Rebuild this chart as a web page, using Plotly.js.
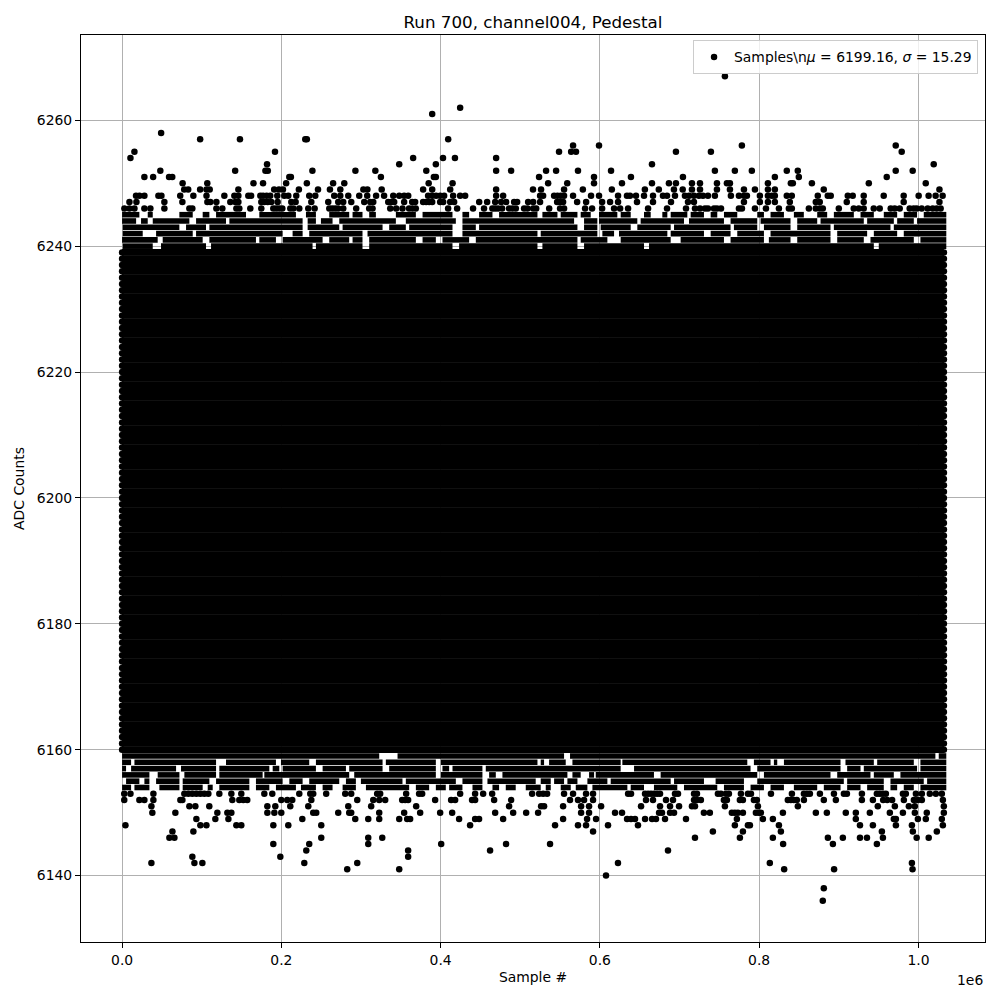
<!DOCTYPE html>
<html>
<head>
<meta charset="utf-8">
<script src="https://cdn.plot.ly/plotly-3.0.1.min.js"></script>
<style>html,body{margin:0;padding:0;background:#fff;}#chart{width:1000px;height:1000px;}</style>
</head>
<body>
<div id="chart"></div>
<script>
// ---- data (x values in thousands of samples, y in ADC counts) ----
const sampleFirstK = 0;
const sampleLastK = 1032;

// ADC levels that are filled across the whole run
const coreLevels = [6160,6161,6162,6163,6164,6165,6166,6167,6168,6169,6170,
  6171,6172,6173,6174,6175,6176,6177,6178,6179,6180,6181,6182,6183,6184,6185,6186,6187,6188,6189,6190,
  6191,6192,6193,6194,6195,6196,6197,6198,6199,6200,6201,6202,6203,6204,6205,6206,6207,6208,6209,6210,
  6211,6212,6213,6214,6215,6216,6217,6218,6219,6220,6221,6222,6223,6224,6225,6226,6227,6228,6229,6230,
  6231,6232,6233,6234,6235,6236,6237,6238,6239];

// partially filled rows: runs of adjacent samples [fromK, toK]
const runs6245 = [[0,21.7],[32.2,38.5],[71.9,88.7],[101.2,109.6],[118,155.6],[172.3,218.3],[230.9,243.4],[260.1,285.2],
  [289.4,301.9],[310.3,318.7],[343.8,368.9],[377.3,414.9],[427.4,435.8],[448.3,465.1],[473.4,521.6],[527.8,546.7],
  [550.8,571.8],[575.9,588.5],[598.9,621.9],[626.1,638.7],[655.4,663.8],[678.4,684.7],[688.9,709.8],[714,730.7],
  [739.1,747.4],[755.8,772.5],[797.6,806],[814.3,831.1],[843.6,856.1],[872.9,885.4],[893.8,918.9],[927.3,944],
  [956.5,973.3],[981.6,998.3],[1006.7,1035]];
const runs6244 = [[0,17.6],[23.8,32.2],[38.5,84.5],[92.9,130.5],[134.7,226.7],[233,243.4],[249.7,264.3],[272.7,343.8],
  [356.3,419.1],[427.4,567.6],[580.1,596.8],[598.9,647],[651.2,705.6],[711.9,755.8],[764.1,797.6],[801.8,839.4],
  [847.8,872.9],[877.1,931.4],[935.6,969.1],[973.3,994.2],[998.3,1035]];
const runs6243 = [[0.8,71.9],[80.3,105.4],[109.6,226.7],[233,272.7],[276.9,327.1],[335.4,356.3],[360.5,414.9],[427.4,444.2],
  [448.3,571.8],[580.1,596.8],[601,638.7],[647,688.9],[693.1,764.1],[768.3,797.6],[806,839.4],[847.8,889.6],[893.8,964.9],
  [969.1,1035]];
const runs6242 = [[0.8,25.9],[42.7,88.7],[92.9,201.6],[214.1,226.7],[235,301.9],[308.2,414.9],[427.4,521.6],[525.7,596.8],
  [603.1,617.8],[624,684.7],[688.9,730.7],[739.1,764.1],[772.5,806],[814.3,889.6],[898,935.6],[944,973.3],[981.6,1035]];
const runs6241 = [[0,44.7],[51,101.2],[109.6,168.1],[172.3,193.2],[201.6,251.8],[260.1,285.2],[289.4,301.9],[310.3,368.9],
  [377.3,394],[402.3,435.8],[444.2,571.8],[575.9,609.4],[626.1,688.9],[701.4,755.8],[764.1,806],[812.2,839.4],[847.8,889.6],
  [898,931.4],[939.8,994.2],[1002.5,1035]];
const runs6240 = [[0.8,38.5],[48.9,105.4],[111.7,239.2],[243.4,301.9],[310.3,414.9],[423.2,521.6],[527.8,571.8],[580.1,655.4],
  [661.7,944],[950.2,1035]];
const runs6159 = [[0,322.9],[345.9,555],[562.5,1021.3],[1025.5,1035]];
const runs6158 = [[0,11.3],[15.5,118],[130.5,193.2],[199.5,235],[243.4,327.1],[331.2,394],[400.3,521.6],[525.7,529.9],
  [536.2,557.1],[565.5,626.1],[628.2,785.1],[793.4,814.3],[818.5,822.7],[831.1,902.2],[908.4,944],[948.2,994.2],[1002.5,1035]];
const runs6157 = [[0,5],[11.3,67.8],[74,118],[122.1,184.9],[189.1,197.4],[201.6,243.4],[251.8,281.1],[285.2,327.1],[335.4,394],
  [402.3,410.7],[414.9,452.5],[456.7,626.1],[642.9,789.2],[797.6,902.2],[910.5,927.3],[931.4,998.3],[1002.5,1035]];
const runs6156 = [[0,34.3],[44.7,72],[78.2,118],[122.1,176.5],[178.6,285.2],[291.5,394],[400.3,452.5],[460.9,469.3],
  [477.6,559.2],[565.5,575.9],[586.4,592.7],[594.8,667.9],[676.3,797.6],[806,889.6],[898,939.8],[944,969.1],[977.4,1035]];
const runs6155 = [[5,21.7],[28,34.3],[42.7,72],[76.1,109.6],[118,159.8],[168.1,201.6],[210,226.7],[235,272.7],[281.1,293.6],
  [299.9,352.1],[356.3,419.1],[427.4,452.5],[458.8,519.4],[525.7,538.3],[542.5,555],[559.2,571.8],[584.3,609.4],[613.6,688.9],
  [693.1,730.7],[745.3,780.9],[797.6,906.3],[910.5,956.5],[964.9,1006.7],[1010.9,1035]];
const runs6154 = [[0,11.3],[15.5,34.3],[46.8,72],[76.1,101.2],[107.5,113.8],[122.1,159.8],[168.1,184.9],[193.2,218.3],
  [224.6,243.4],[251.8,264.3],[276.9,293.6],[306.2,360.5],[368.9,385.6],[394,406.5],[410.7,427.4],[440,452.5],[465.1,473.4],
  [481.8,494.3],[506.9,525.7],[532,538.3],[550.8,563.4],[569.7,584.3],[590.6,634.5],[638.7,655.4],[667.9,697.2],[705.6,747.4],
  [755.8,780.9],[789.2,806],[814.3,831.1],[843.6,872.9],[881.2,902.2],[910.5,927.3],[935.6,956.5],[964.9,973.3],[981.6,994.2],
  [1002.5,1035]];

// sparse rows: individual samples
const row6267 = [757];
const row6262 = [424.5];
const row6261 = [389.4];
const row6258 = [49];
const row6257 = [98, 148, 230, 232, 409.5];
const row6256 = [566.3, 598.9, 778.3, 971.5];
const row6255 = [15.5, 192, 548.7, 563.9, 570, 695.5, 739.4, 979];
const row6254 = [10.5, 365.5, 403, 418, 469.7];
const row6253 = [182, 348, 394, 665.4, 1019.2];
const row6252 = [48, 142, 180, 183, 239, 293, 318, 382, 469.7, 488.5, 532.4, 545, 572.5, 614, 744.4, 769.5, 790.8, 834.7, 848.5, 971.5, 992.8];
const row6251 = [28, 39, 59, 63, 210, 212, 325, 391.5, 394, 523.6, 592.6, 639, 704.3, 819.7, 849.8, 960.2];
const row6250 = [76, 107, 165, 177, 206, 232, 265, 279, 385, 415, 535, 559, 592.6, 627.7, 665.4, 686.7, 695.5, 715.6, 725.7, 747, 759.5, 763.3, 811, 839.8, 842.3, 866.2, 937.7, 1009.2];
const row6249 = [78, 83, 98, 106, 110, 146, 191, 197, 202, 222, 246, 261, 274, 303, 308, 326, 378, 389.4, 412, 469.7, 516, 526.1, 555, 578.6, 615, 656.5, 674, 693, 704, 715.6, 725.7, 747, 763.3, 780.9, 794.7, 811, 819.7, 881.1, 1026.4];
const row6248 = [17.5, 21.8, 28, 45.6, 49.4, 73, 89.5, 106, 128.4, 141, 146, 158.5, 162, 173.6, 177, 181.5, 186, 194.9, 203.7, 208.7, 218.7, 235, 242.6, 266.4, 274, 284, 297.8, 307.8, 319, 329, 340.5, 348,
  354.2, 359.3, 384.3, 389.4, 394.3, 399.4, 404.4, 415.7, 424.5, 430.8, 469.7, 478.5, 524.9, 528.7, 542.5, 546.7, 550.9, 555, 566.3, 588.9, 598.9, 622.8, 634, 637.8, 645.3, 655.4, 666.7, 679.2, 684.3, 694.3, 706.8, 711.9, 718.1, 724.4,
  729.4, 735.7, 744.4, 764.5, 774.6, 780.9, 784.6, 800.9, 811, 816, 819.7, 834.7, 841, 873.6, 886.2, 889.9, 911.3, 917.5, 931.3, 956.4, 981.5, 1000.3, 1012.8, 1021.6, 1030.4];
const row6247 = [9.2, 18, 53.1, 75.7, 107.1, 110.8, 118.4, 135.9, 142.2, 146, 174.8, 178.6, 182.8, 187.4, 195.3, 212.5, 217.9, 237.6, 258.9, 271.4, 277.7, 287.8, 304.1, 311.6, 315.4, 334.2, 338, 341.7,
  354.2, 364.3, 368, 378, 381.8, 385.6, 389.4, 399.4, 403.2, 412, 417, 448.4, 458.4, 468.5, 476, 482.3, 492.3, 496.1, 509.9, 516.2, 524.9, 546.3, 550, 553.8, 571.4, 582.7, 602.8, 612.8, 622.8, 646.6, 666.7, 689.3, 710.6, 718.1,
  780.9, 800.9, 811, 819.7, 838.5, 871.1, 876.1, 910, 931.3, 981.5, 1026.4];
const row6246 = [2.9, 9.2, 15.5, 28, 35.5, 53.1, 84.5, 88.2, 118.4, 125.9, 143.5, 147.2, 161, 174.8, 189.9, 193.6, 197.4, 201.2, 211.2, 215, 222.5, 233.8, 241.8, 260.2, 263.9, 267.7, 271.4, 277.7, 294, 310.3, 314.5, 336.7, 344.2,
  352.1, 360.4, 364.6, 368.8, 409.4, 420.7, 440.7, 454.5, 465, 468.5, 472.2, 477.2, 486, 490.2, 494.4, 504.8, 509, 516.2, 520, 536.3, 550, 555, 581.4, 590.2, 602.8, 617.8, 625.4, 635.4, 660.5, 684.3, 708.1, 719.4,
  725.7, 732, 735.7, 743.3, 747, 752.1, 774.6, 778.4, 794.7, 808.5, 824.8, 837.3, 841, 862.4, 871.1, 876.1, 879.9, 900, 918.8, 925.1, 931.3, 943.9, 951.4, 965.2, 970.2, 976.5, 989, 994, 997.8, 1004.1, 1011.6, 1017.9, 1022.9, 1027.9];
const row6153 = [2.7, 10.5, 39.3, 78.2, 83.2, 88.2, 93.3, 98.3, 103.3, 108.3, 122.1, 137.2, 149.7, 178.6, 188.6, 222.5, 236.3, 240, 256.3, 280.2, 287.7, 320.3, 324.1,
  356.7, 373, 376.8, 424.5, 443.3, 453.4, 464.7, 514.9, 523.7, 528.7, 533.7, 555, 566.3, 582.6, 591.4, 635.4, 639.1, 656.7, 660.5, 664.2, 668, 671.8, 675.5, 694.3, 698.1, 718.2, 721.9,
  748.2, 752, 758.3, 762, 777.1, 785.9, 789.7, 814.8, 841.1, 856.2, 860, 863.7, 876.3, 893.9, 906.4, 910.2, 929, 947.8, 951.6, 955.4, 959.1, 980.5, 984.2, 996.8, 1004.3, 1014.3, 1021.9, 1029.4];
const row6152 = [2.7, 21.7, 28, 39.3, 73.2, 75.7, 138.4, 147.2, 152.2, 157.2, 199.9, 207.4, 213.7, 237.6, 295.3, 315.4, 322.9, 330.4,
  351.7, 355.5, 359.2, 393.1, 413.2, 418.2, 439.5, 443.3, 467.2, 488.5, 562.5, 572.5, 580.1, 591.4, 657.9, 666.7, 683, 691.8, 718.2, 721.9,
  726.8, 755.7, 759.5, 775.8, 779.6, 793.4, 797.1, 836, 839.8, 843.5, 847.3, 856.2, 881.2, 896.3, 929, 942.8, 955.7, 960.8, 967, 981.7, 994.3, 999.3, 1004.3, 1030.7];
const row6151 = [36.8, 84.5, 92, 109.5, 182.4, 192.4, 211.2, 233.8, 284, 312.8, 369.3, 486, 526.2, 529.9, 553.8, 576.4, 586.4, 601.5, 651.7, 675.5, 688.1, 699.4, 715.6, 719.4, 757, 798.4, 848.6, 949, 970.4, 988, 995.5, 1031.9];
const row6150 = [38, 66.9, 119.6, 132.2, 137.2, 182.4, 191.2, 199.9, 240, 243.8, 271.4, 285.2, 287.7, 322.9, 354.2, 374.3, 399.4, 414.5, 468.5, 491.1, 507.4, 522.4, 576.4, 586.4, 619, 627.8, 674.3, 678, 688.1, 693.1,
  730.6, 738.1, 765.7, 769.5, 773.3, 779.6, 795.9, 799.7, 802.2, 829.8, 871.2, 885, 908.8, 921.4, 939, 964.1, 980.5, 995.5, 1010.5, 1031.9];
const row6149 = [93.3, 117.1, 133.5, 226.3, 292.8, 309.1, 322.9, 348, 358, 361.7, 423.2, 443.3, 448.3, 478.5, 553.8, 583.9, 595.2, 634.1, 639.1, 644.1, 656.7, 665.5, 670.5, 681.8, 708.1, 772, 804.7, 817.2, 921.4, 969.1, 971.7, 999.3, 1009.3, 1029.4];
const row6148 = [4.2, 98.3, 105.9, 143.5, 149.7, 189.9, 208.7, 250.1, 437, 543.7, 572.5, 582.6, 610.2, 647.8, 769.5, 785.9, 788.4, 824.8, 926.6, 942.8, 971.7, 991.8, 1030.7];
const row6147 = [63.2, 89.5, 591.4, 741.9, 779.6, 827.3, 954.1, 993, 1023.1];
const row6146 = [59.4, 65.7, 250.1, 309.1, 326.7, 719.4, 775.8, 817.2, 886.3, 905.1, 926.6, 935.4, 955.4, 997.8, 1012.9];
const row6145 = [189.9, 235, 309.1, 400.7, 482.2, 537.4, 830.1, 892.6, 947.8];
const row6144 = [231.3, 359.2, 462.1, 685.5];
const row6143 = [88.2, 198.7, 359.2];
const row6142 = [36.8, 90.8, 100.8, 228.8, 295.3, 622.7, 813.4, 991.8];
const row6141 = [282.7, 348, 831.4, 894.1, 992.6];
const row6140 = [607.7];
const row6138 = [881.2];
const row6136 = [879.9];

const runRows = [[6245,runs6245],[6244,runs6244],[6243,runs6243],[6242,runs6242],[6241,runs6241],[6240,runs6240],
  [6159,runs6159],[6158,runs6158],[6157,runs6157],[6156,runs6156],[6155,runs6155],[6154,runs6154]];
const sparseRows = [
  [6267,row6267],[6262,row6262],[6261,row6261],[6258,row6258],[6257,row6257],[6256,row6256],[6255,row6255],
  [6254,row6254],[6253,row6253],[6252,row6252],[6251,row6251],[6250,row6250],[6249,row6249],[6248,row6248],
  [6247,row6247],[6246,row6246],
  [6153,row6153],[6152,row6152],[6151,row6151],[6150,row6150],[6149,row6149],[6148,row6148],[6147,row6147],
  [6146,row6146],[6145,row6145],[6144,row6144],[6143,row6143],[6142,row6142],[6141,row6141],[6140,row6140],
  [6138,row6138],[6136,row6136]];

const xTickVals = [0, 0.2, 0.4, 0.6, 0.8, 1.0];
const xTickText = ['0.0', '0.2', '0.4', '0.6', '0.8', '1.0'];
const yTickVals = [6140, 6160, 6180, 6200, 6220, 6240, 6260];
const legendLabel = 'Samples\\n<i>μ</i> = 6199.16, <i>σ</i> = 15.29';

// ---- build traces ----
const K = 1000;
const coreX = [], coreY = [];
coreLevels.forEach(lv => { coreX.push(sampleFirstK*K, sampleLastK*K, null); coreY.push(lv, lv, null); });
const runX = [], runY = [];
runRows.forEach(([lv, runs]) => {
  runs.forEach(r => { runX.push(r[0]*K, r[1]*K, null); runY.push(lv, lv, null); });
});
const ptX = [], ptY = [];
sparseRows.forEach(([lv, xs]) => xs.forEach(x => { ptX.push(x*K); ptY.push(lv); }));

const allY = coreLevels.concat(ptY);
const yMin = Math.min(...allY), yMax = Math.max(...allY);
const xMin = sampleFirstK*K, xMax = sampleLastK*K;
const xPad = 0.05*(xMax-xMin), yPad = 0.05*(yMax-yMin);

const font = 'DejaVu Sans, sans-serif';
const traces = [
  {type:'scatter', mode:'lines+markers', x:coreX, y:coreY, showlegend:false, hoverinfo:'skip',
   line:{color:'#000', width:6.8}, marker:{color:'#000', size:6.5}},
  {type:'scatter', mode:'lines', x:runX, y:runY, showlegend:false, hoverinfo:'skip',
   line:{color:'#000', width:5.6}},
  {type:'scatter', mode:'markers', x:ptX, y:ptY, name:legendLabel,
   marker:{color:'#000', size:6.5}}
];

const axisCommon = {
  showline:true, mirror:true, linecolor:'#000', linewidth:1,
  ticks:'outside', ticklen:5, tickwidth:1, tickcolor:'#000',
  showgrid:true, gridcolor:'#b0b0b0', gridwidth:1, zeroline:false,
  tickfont:{family:font, size:13.9, color:'#000'}, automargin:false
};

const layout = {
  width:1000, height:1000,
  margin:{l:81, r:15, t:35, b:58},
  paper_bgcolor:'#fff', plot_bgcolor:'#fff',
  font:{family:font, color:'#000'},
  title:{text:'Run 700, channel004, Pedestal', font:{family:font, size:16.7, color:'#000'},
         x:0.5, xref:'paper', y:0.978, yref:'container', yanchor:'middle'},
  xaxis: Object.assign({}, axisCommon, {
    range:[xMin - xPad, xMax + xPad],
    tickvals: xTickVals.map(v => v*1e6), ticktext: xTickText,
    title:{text:'Sample #', font:{family:font, size:13.9, color:'#000'}, standoff:5}
  }),
  yaxis: Object.assign({}, axisCommon, {
    range:[yMin - yPad, yMax + yPad],
    tickvals: yTickVals, ticktext: yTickVals.map(String),
    title:{text:'ADC Counts', font:{family:font, size:13.9, color:'#000'}, standoff:8}
  }),
  legend:{x:0.9923, xanchor:'right', y:0.994, yanchor:'top',
          bgcolor:'rgba(255,255,255,0.8)', bordercolor:'#cccccc', borderwidth:1,
          font:{family:font, size:13.9, color:'#000'}},
  annotations:[{text:'1e6', xref:'paper', yref:'paper', x:1, y:-0.042, xanchor:'right', yanchor:'middle',
                showarrow:false, font:{family:font, size:13.9, color:'#000'}}]
};

Plotly.newPlot('chart', traces, layout, {staticPlot:true, displayModeBar:false});
</script>
</body>
</html>
